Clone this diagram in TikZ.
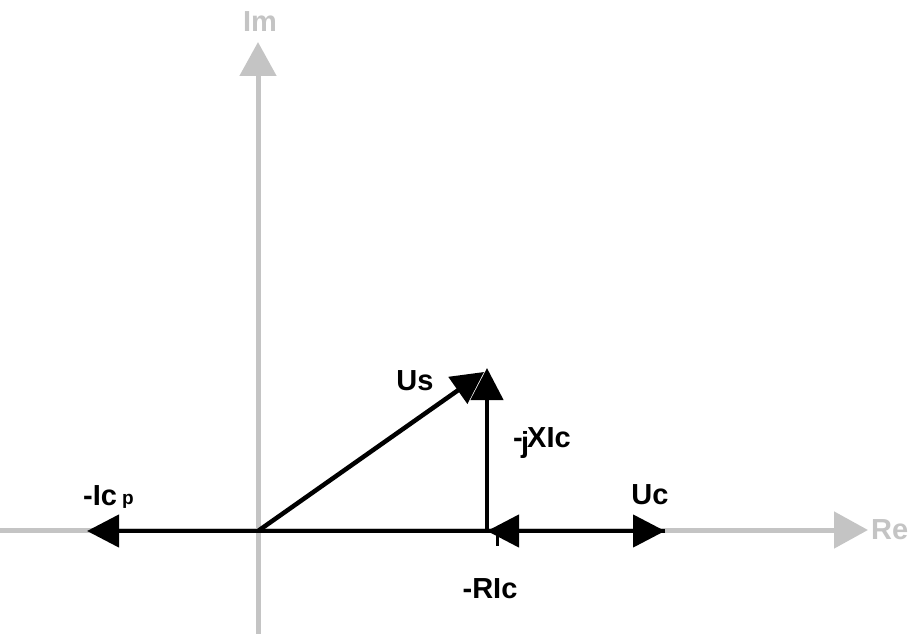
\documentclass[tikz,border=0pt]{standalone}
\usepackage{fontspec}
\setmainfont{Liberation Sans}
\usetikzlibrary{arrows.meta}
\definecolor{axisgray}{HTML}{C4C4C4}
\tikzset{
  axis/.style={draw=axisgray, line width=5pt, -{Triangle[length=34pt,width=36pt]}},
  vec/.style={draw=black, line width=4.5pt, -{Triangle[length=32pt,width=32pt]}},
  lab/.style={font=\bfseries\fontsize{29}{29}\selectfont, inner sep=0pt},
  smalllab/.style={font=\bfseries\fontsize{19}{19}\selectfont, inner sep=0pt},
  axlab/.style={lab, text=axisgray}
}
\begin{document}
\begin{tikzpicture}[x=1pt,y=-1pt]
\useasboundingbox (0,0) rectangle (913,634);
\coordinate (reL) at (0,530);
\coordinate (reR) at (868,530);
\coordinate (imB) at (258,634);
\coordinate (imT) at (258,42);
\coordinate (O) at (258,531);
\coordinate (ICP) at (87,531);
\coordinate (P) at (487,531);
\coordinate (UC) at (665,531);
\coordinate (Q) at (487,368);
\coordinate (US) at (484,372);
\coordinate (t1) at (497,535);
\coordinate (t2) at (497,546);
\draw[axis] (reL) -- (reR);
\draw[axis] (imB) -- (imT);
\node[axlab, anchor=west] (re) at (871,530) {Re};
\node[axlab] (im) at (260,22) {Im};
\draw[vec] (O) -- (ICP);
\draw[vec] (O) -- (UC);
\draw[vec] (UC) -- (P);
\draw[vec] (P) -- (Q);
\draw[vec] (O) -- (US);
\draw[line width=3pt] (t1) -- (t2);
\node[lab, anchor=base west] (icp) at (83,505) {-Ic};
\node[smalllab, anchor=base west] (p) at (122,504) {p};
\node[lab, anchor=base] (us) at (415,390) {Us};
\node[lab, anchor=base] (uc) at (650,504) {Uc};
\node[lab, anchor=base] (ric) at (490,598) {-RIc};
\node[lab, anchor=base west] (minus) at (513,447) {-};
\node[lab, anchor=base west] (j) at (521,452) {j};
\node[lab, anchor=base west] (xic) at (527,447) {XIc};
\end{tikzpicture}
\end{document}
